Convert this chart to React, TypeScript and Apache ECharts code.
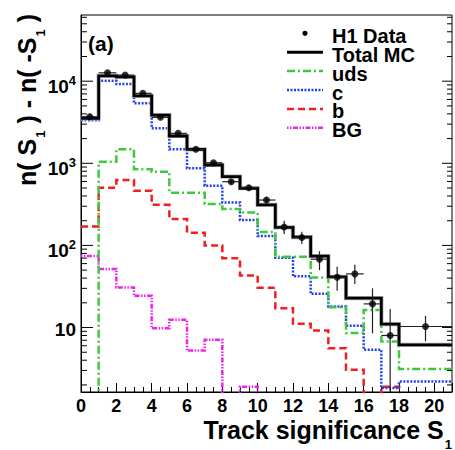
import React, { useEffect, useRef } from 'react';
import * as echarts from 'echarts';

const FONT = "'Liberation Sans', Arial, Helvetica, sans-serif";

// Bin edges of the histogram (last bin is a wide one)
const binEdges = [0, 1, 2, 3, 4, 5, 6, 7, 8, 9, 10, 11, 12, 13, 14, 15, 16, 17, 18, 21];

// Monte Carlo components per bin
const totalMC = [3525, 11640, 11300, 6640, 3870, 2150, 1480, 953, 687, 497, 311, 166, 126, 74, 41.5, 22.8, 22.8, 11, 6.15];
const udsMC = [0, 1045, 1480, 845, 791, 439, 439, 320, 277, 252, 146, 73, 73, 40.6, 17.7, 8.55, 16.4, 6.76, 3.12];
const charmMC = [3350, 10100, 9220, 5370, 2670, 1480, 869, 533, 334, 204, 130, 71, 42, 25.7, 18, 10.5, 5.36, 1.83, 2.2];
const beautyMC = [170, 505, 626, 464, 312, 210, 143, 100, 69.8, 43, 30.5, 17.2, 11.1, 9.2, 5.6, 3.06, 1.5, 1.9, 0];
const bgMC = [74.5, 51.8, 30.7, 24.3, 9.8, 12.4, 5.25, 7.08, 0, 1.9, 0, 0, 0, 0, 0, 0, 0, 0, 0];

// H1 data with error bounds
const h1Data = [3690, 12650, 11860, 7110, 3630, 2317, 1480, 1016, 597, 505, 357, 168, 125, 68, 41, 45, 19.4, 8.0, 10.3];
const h1Upper = [4000, 13000, 12200, 7350, 3780, 2420, 1560, 1070, 635, 540, 390, 200, 147, 85, 55, 58, 30, 16.8, 13.9];
const h1Lower = [3400, 12300, 11500, 6880, 3490, 2210, 1400, 960, 560, 470, 325, 138, 104, 50, 28, 34, 8.5, 0, 6.8];

// Axis ticks / labels
const xLabelValues = [0, 2, 4, 6, 8, 10, 12, 14, 16, 18, 20];
const yDecades = [10, 100, 1000, 10000];
const yDecadeLabels: [string, string][] = [['10', ''], ['10', '2'], ['10', '3'], ['10', '4']];
const yMinorSteps = [2, 3, 4, 5, 6, 7, 8, 9];
const yBaseDecades = [1, 10, 100, 1000, 10000];
const Y_MIN = 1.64;
const Y_MAX = 64000;
const X_MIN = 0;
const X_MAX = 21;
const ZERO_FLOOR = 1e-3; // empty bins are drawn below the visible range

const legendItems = [
  { label: 'H1 Data', kind: 'marker', color: '#000', dash: null as number[] | null, width: 0 },
  { label: 'Total MC', kind: 'line', color: '#000', dash: null, width: 3 },
  { label: 'uds', kind: 'line', color: '#3ec83e', dash: [8, 3, 2, 3], width: 2.5 },
  { label: 'c', kind: 'line', color: '#2040f0', dash: [2, 1.5], width: 2.5 },
  { label: 'b', kind: 'line', color: '#f01e1e', dash: [7, 4], width: 2.5 },
  { label: 'BG', kind: 'line', color: '#ee22ee', dash: [1.5, 1.5, 1.5, 1.5, 5, 1.5], width: 2.5 },
];

function histo(vals: number[]) {
  const pts = vals.map((v, i) => [binEdges[i], v > 0 ? v : ZERO_FLOOR]);
  const last = vals[vals.length - 1];
  pts.push([binEdges[vals.length], last > 0 ? last : ZERO_FLOOR]);
  return pts;
}

function stepSeries(name: string, vals: number[], color: string, width: number, dash: any, z: number) {
  return {
    name,
    type: 'line',
    step: 'end',
    data: histo(vals),
    symbol: 'none',
    showSymbol: false,
    silent: true,
    clip: true,
    z,
    lineStyle: { color, width, type: dash || 'solid', cap: 'butt', join: 'miter' },
  };
}

export default function App() {
  const ref = useRef<HTMLDivElement>(null);
  useEffect(() => {
    if (!ref.current) return;
    const chart = echarts.init(ref.current, undefined, { renderer: 'svg' });

    const yTickData: number[][] = [];
    yBaseDecades.forEach((d) => {
      if (d >= Y_MIN && d <= Y_MAX && yDecades.includes(d)) yTickData.push([0, d, 1]);
      yMinorSteps.forEach((m) => {
        const v = m * d;
        if (v >= Y_MIN && v <= Y_MAX) yTickData.push([0, v, 0]);
      });
    });

    const pointData = h1Data.map((v, i) => [(binEdges[i] + binEdges[i + 1]) / 2, v]);
    const errData = h1Data.map((v, i) => [
      (binEdges[i] + binEdges[i + 1]) / 2,
      v,
      h1Lower[i],
      h1Upper[i],
      (binEdges[i + 1] - binEdges[i]) / 2,
    ]);

    const legendTop = 33.3;
    const legendStep = 18.9;
    const legendGraphics: any[] = [];
    legendItems.forEach((it, i) => {
      const y = legendTop + i * legendStep;
      if (it.kind === 'marker') {
        legendGraphics.push({ type: 'circle', shape: { cx: 305, cy: y, r: 2.6 }, style: { fill: '#000' } });
      } else {
        legendGraphics.push({
          type: 'line',
          shape: { x1: 287, y1: y, x2: 323, y2: y },
          style: { stroke: it.color, lineWidth: it.width, lineDash: it.dash || undefined },
        });
      }
      legendGraphics.push({
        type: 'text',
        x: 332,
        y: y + 2.5,
        style: {
          text: it.label,
          fill: '#000',
          font: `bold 20px ${FONT}`,
          align: 'left',
          verticalAlign: 'middle',
        },
      });
    });

    const option: any = {
      animation: false,
      grid: {
        left: 81,
        top: 15,
        width: 372,
        height: 377,
        show: true,
        borderColor: '#000',
        borderWidth: 1,
        backgroundColor: 'transparent',
      },
      xAxis: {
        type: 'value',
        min: X_MIN,
        max: X_MAX,
        interval: 2,
        axisLine: { show: true, onZero: false, lineStyle: { color: '#000', width: 1 } },
        axisTick: { show: true, inside: true, length: 9, lineStyle: { color: '#000', width: 1 } },
        minorTick: { show: true, splitNumber: 4, length: 5, lineStyle: { color: '#000', width: 1 } },
        splitLine: { show: false },
        minorSplitLine: { show: false },
        axisLabel: {
          color: '#000',
          fontSize: 18,
          fontWeight: 'bold',
          fontFamily: FONT,
          margin: 5,
          formatter: (v: number) => (xLabelValues.includes(v) ? String(v) : ''),
        },
      },
      yAxis: {
        type: 'log',
        logBase: 10,
        min: Y_MIN,
        max: Y_MAX,
        axisLine: { show: true, lineStyle: { color: '#000', width: 1 } },
        axisTick: { show: false },
        splitLine: { show: false },
        axisLabel: {
          margin: 5,
          formatter: (v: number) => {
            const lg = Math.log10(v);
            const k = Math.round(lg);
            if (Math.abs(lg - k) > 1e-6) return '';
            const idx = yDecades.indexOf(Math.pow(10, k));
            if (idx < 0) return '';
            const [b, e] = yDecadeLabels[idx];
            return e ? `{m|${b}}{s|${e}}` : `{p|${b}}`;
          },
          rich: {
            m: { fontSize: 19, fontWeight: 'bold', fontFamily: FONT, color: '#000', padding: [10, 0, 0, 0] },
            s: { fontSize: 13, fontWeight: 'bold', fontFamily: FONT, color: '#000', padding: [0, 0, 2, 0] },
            p: { fontSize: 19, fontWeight: 'bold', fontFamily: FONT, color: '#000', padding: [4, 0, 0, 0] },
          },
        },
      },
      graphic: [
        {
          type: 'text',
          x: 88,
          y: 43,
          style: { text: '(a)', fill: '#000', font: `bold 21px ${FONT}`, align: 'left', verticalAlign: 'middle' },
        },
        {
          type: 'text',
          x: 452,
          y: 430,
          style: {
            text: '{t|Track significance S}{u|1}',
            align: 'right',
            verticalAlign: 'middle',
            rich: {
              t: { fontSize: 25, fontWeight: 'bold', fontFamily: FONT, fill: '#000' },
              u: { fontSize: 13, fontWeight: 'bold', fontFamily: FONT, fill: '#000', padding: [28, 0, 0, 1] },
            },
          },
        },
        {
          type: 'text',
          x: 27,
          y: 100,
          rotation: Math.PI / 2,
          style: {
            text: '{t|n( S}{u|1}{t| ) - n( -S}{u|1}{t| )}',
            align: 'center',
            verticalAlign: 'middle',
            rich: {
              t: { fontSize: 25, fontWeight: 'bold', fontFamily: FONT, fill: '#000' },
              u: { fontSize: 13, fontWeight: 'bold', fontFamily: FONT, fill: '#000', padding: [26, 0, 0, 1] },
            },
          },
        },
        ...legendGraphics,
      ],
      series: [
        stepSeries('BG', bgMC, legendItems[5].color, 2.5, legendItems[5].dash, 2),
        stepSeries('b', beautyMC, legendItems[4].color, 2.5, legendItems[4].dash, 3),
        stepSeries('c', charmMC, legendItems[3].color, 2.5, legendItems[3].dash, 3),
        stepSeries('uds', udsMC, legendItems[2].color, 2.5, legendItems[2].dash, 4),
        stepSeries('Total MC band', totalMC, '#b4b4b4', 4.2, null, 5),
        stepSeries('Total MC', totalMC, '#000', 2.8, null, 6),
        {
          name: 'H1 Data errors',
          type: 'custom',
          coordinateSystem: 'cartesian2d',
          data: errData,
          silent: true,
          z: 7,
          encode: { x: 0, y: 1 },
          renderItem: (params: any, api: any) => {
            const cs = params.coordSys;
            const xc = api.value(0);
            const v = api.value(1);
            const lo = api.value(2);
            const hi = api.value(3);
            const hw = api.value(4);
            const c = api.coord([xc, v]);
            const l = api.coord([xc - hw, v]);
            const r = api.coord([xc + hw, v]);
            const yBottom = cs.y + cs.height;
            const yl = Math.min(api.coord([xc, lo > 0 ? lo : ZERO_FLOOR])[1], yBottom);
            const yh = Math.max(api.coord([xc, hi])[1], cs.y);
            const rEdge = Math.min(r[0], cs.x + cs.width);
            const st = { stroke: '#222', lineWidth: 1.2 };
            return {
              type: 'group',
              children: [
                { type: 'line', shape: { x1: l[0], y1: c[1], x2: rEdge, y2: c[1] }, style: st },
                { type: 'line', shape: { x1: c[0], y1: yh, x2: c[0], y2: yl }, style: st },
              ],
            };
          },
        },
        {
          name: 'H1 Data',
          type: 'scatter',
          data: pointData,
          symbol: 'circle',
          symbolSize: 7,
          itemStyle: { color: '#000' },
          silent: true,
          z: 8,
        },
        {
          name: 'y ticks',
          type: 'custom',
          coordinateSystem: 'cartesian2d',
          data: yTickData,
          silent: true,
          z: 9,
          encode: { x: 0, y: 1 },
          renderItem: (params: any, api: any) => {
            const cs = params.coordSys;
            const p = api.coord([0, api.value(1)]);
            const major = api.value(2) === 1;
            const lenL = major ? 12 : 6;
            const lenR = major ? 10 : 5;
            const st = { stroke: '#000', lineWidth: 1 };
            return {
              type: 'group',
              children: [
                { type: 'line', shape: { x1: cs.x, y1: p[1], x2: cs.x + lenL, y2: p[1] }, style: st },
                { type: 'line', shape: { x1: cs.x + cs.width, y1: p[1], x2: cs.x + cs.width - lenR, y2: p[1] }, style: st },
              ],
            };
          },
        },
      ],
    };

    chart.setOption(option);
    return () => {
      chart.dispose();
    };
  }, []);

  return <div ref={ref} style={{ width: 455, height: 450, position: 'absolute', left: 0, top: 0, background: '#fff' }} />;
}
